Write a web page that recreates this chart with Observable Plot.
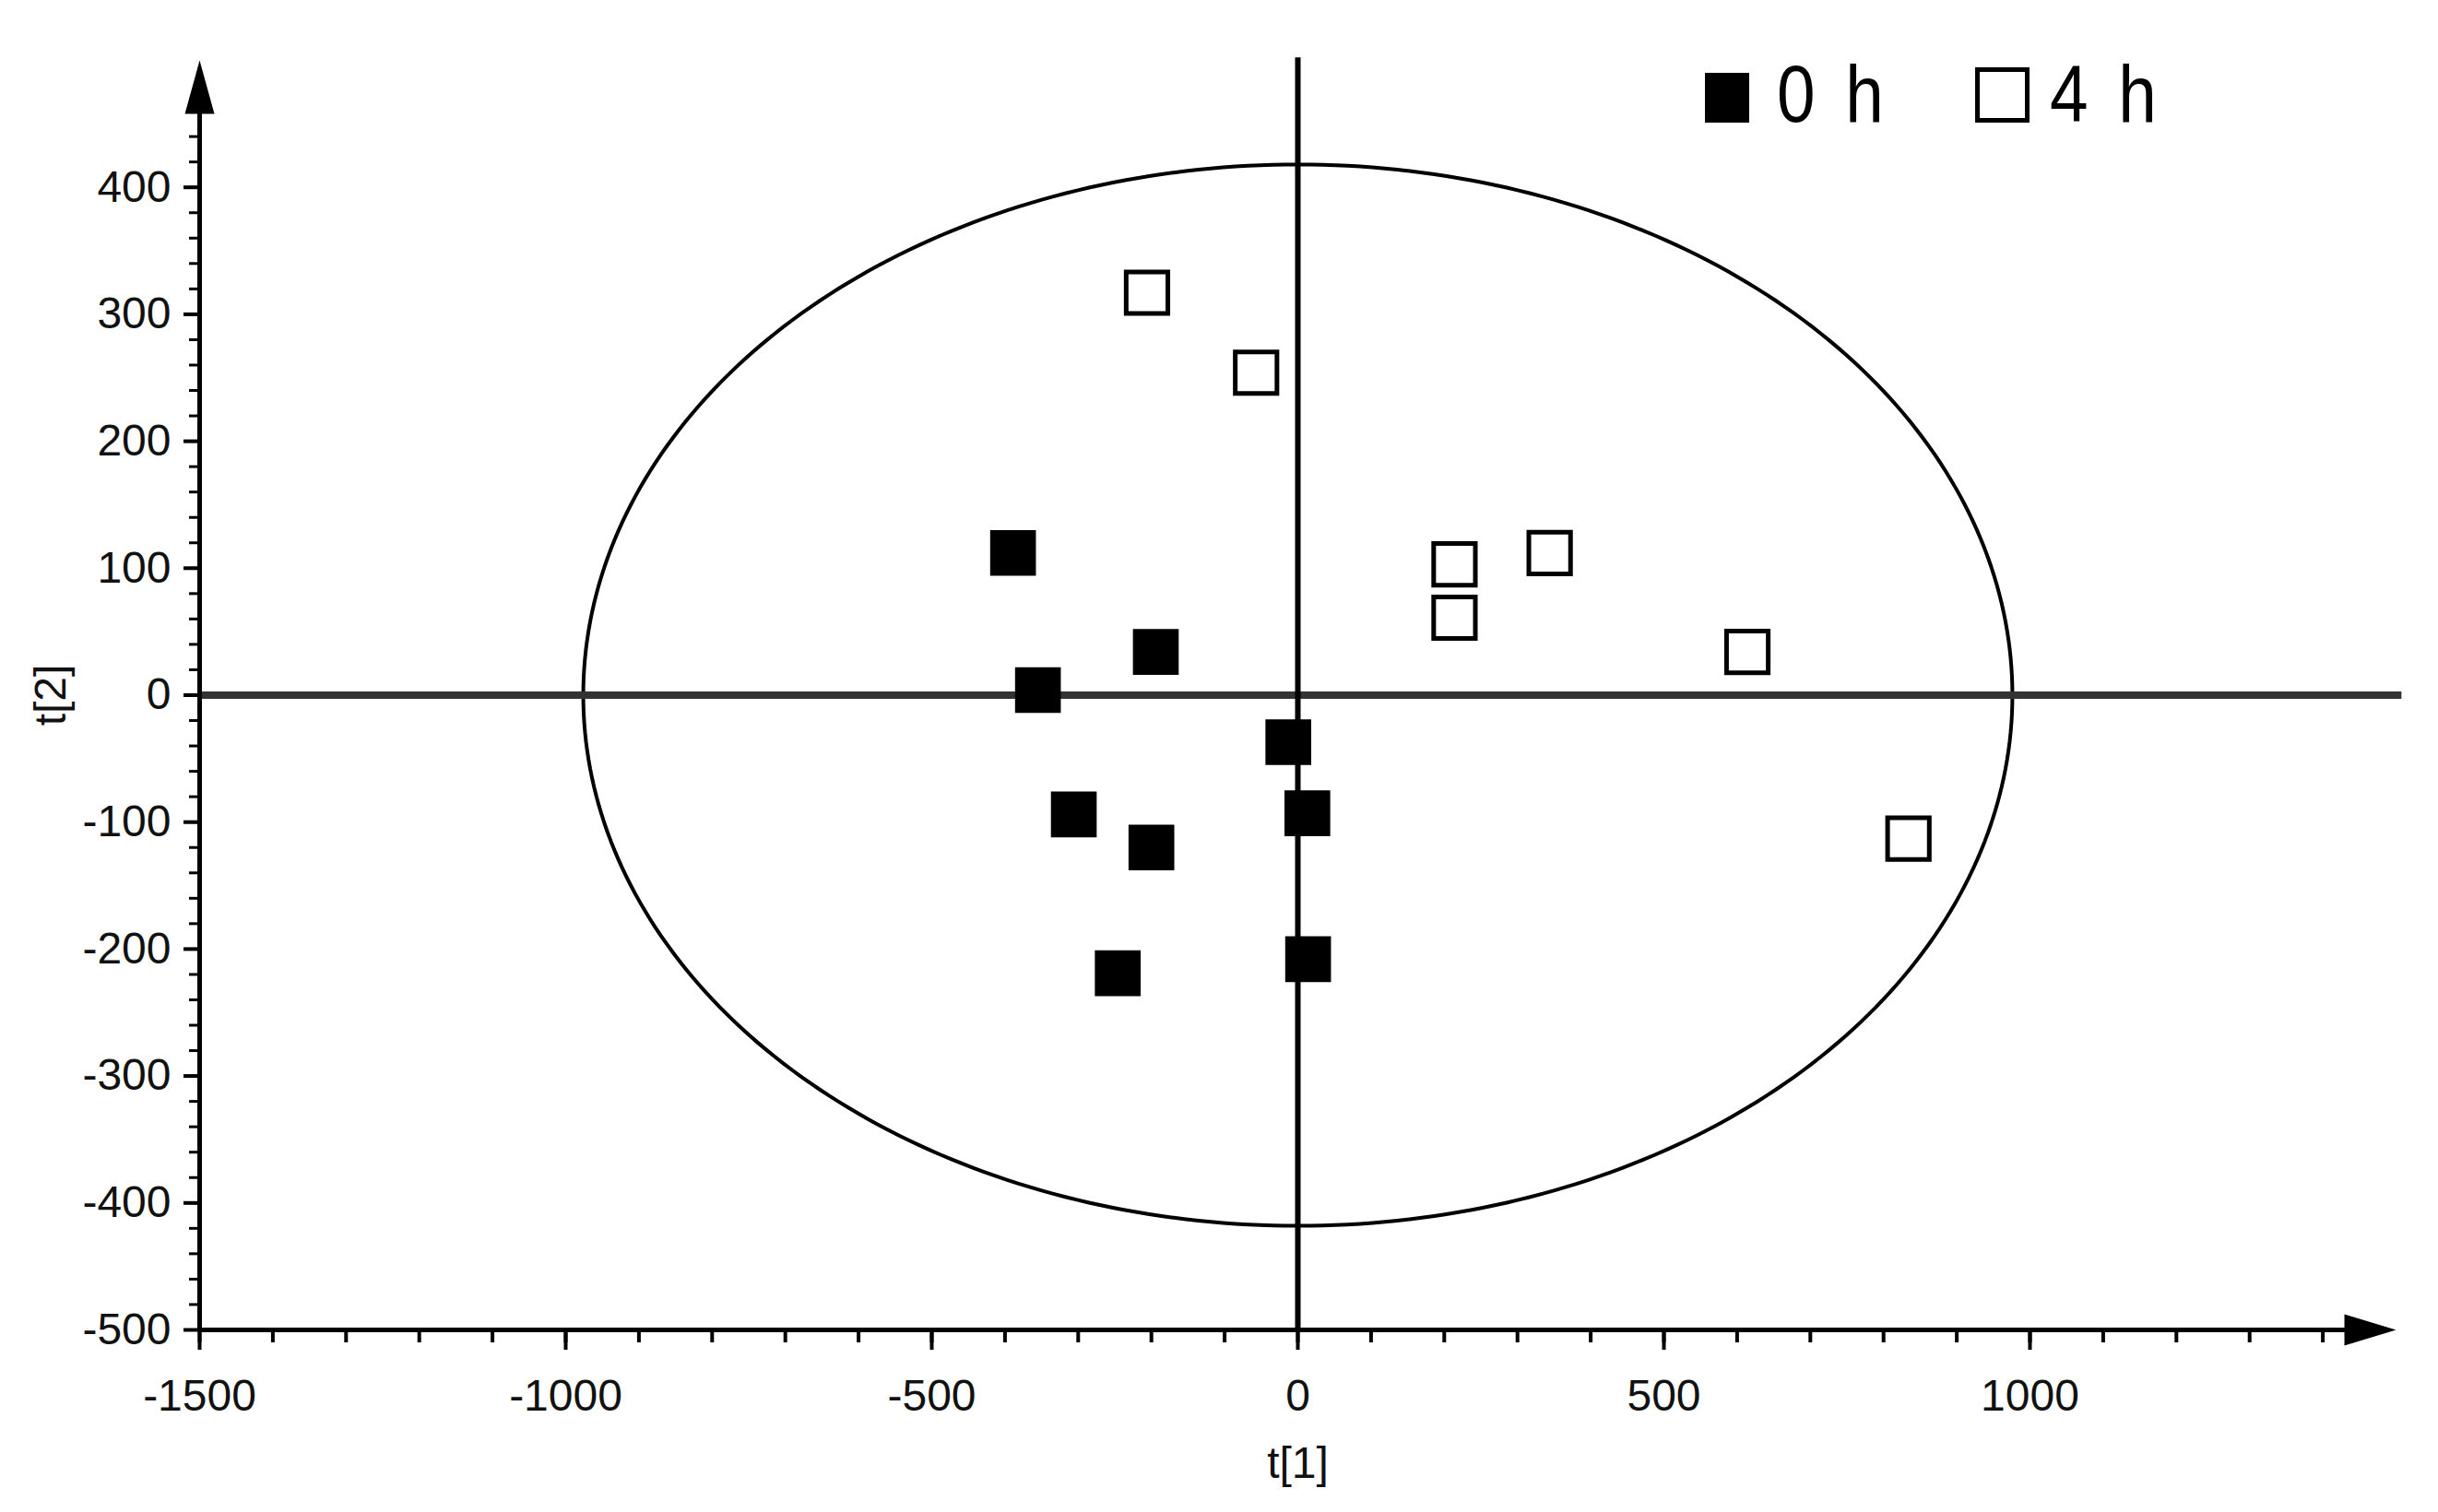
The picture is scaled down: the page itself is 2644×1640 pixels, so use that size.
<!DOCTYPE html>
<html>
<head>
<meta charset="utf-8">
<script src="https://cdn.jsdelivr.net/npm/d3@7"></script>
<script src="https://cdn.jsdelivr.net/npm/@observablehq/plot@0.6"></script>
<style>
  html, body { margin: 0; padding: 0; background: #fff; }
  #wrap { position: relative; width: 2644px; height: 1640px; overflow: hidden; }
  #wrap svg { display: block; }
  .lg { position: absolute; box-sizing: border-box; }
  .lgtext { position: absolute; font-family: "Liberation Sans", Arial, sans-serif;
            font-size: 88px; line-height: 88px; color: #000; white-space: pre;
            word-spacing: 14px; transform: scaleX(0.85); transform-origin: 0 50%; }
</style>
</head>
<body>
<div id="wrap"></div>
<script>
// ---- data ----
const groups = ["0 h", "4 h"];
const t1_0h = [-389, -194, -355, -13, -306, 13, -200, -246, 14];
const t2_0h = [112, 34, 4, -37, -94, -93, -120, -219, -208];
const t1_4h = [-206, -57, 214, 344, 214, 614, 834];
const t2_4h = [317, 254, 103, 112, 61, 34, -113];
const xTicks = [-1500, -1000, -500, 0, 500, 1000];
const yTicks = [-500, -400, -300, -200, -100, 0, 100, 200, 300, 400];
const xMinorTicks = d3.range(-1500, 1401, 100);
const yMinorTicks = d3.range(-500, 441, 20);
const ellipseRx = 976;   // Hotelling T2 ellipse semi-axis on t[1]
const ellipseRy = 418;   // Hotelling T2 ellipse semi-axis on t[2]
const xLabel = "t[1]";
const yLabel = "t[2]";

// ---- tables built from the arrays ----
const points = [
  ...t1_0h.map((v, i) => ({t1: v, t2: t2_0h[i], group: groups[0]})),
  ...t1_4h.map((v, i) => ({t1: v, t2: t2_4h[i], group: groups[1]}))
];
const ellipse = d3.range(0, 360, 1).map(a => {
  const r = a * Math.PI / 180;
  return {t1: ellipseRx * Math.cos(r), t2: ellipseRy * Math.sin(r)};
});

const arrowRight = {draw(ctx) { ctx.moveTo(0, 0); ctx.lineTo(-56, -17); ctx.lineTo(-56, 17); ctx.closePath(); }};
const arrowUp = {draw(ctx) { ctx.moveTo(0, 0); ctx.lineTo(-16, 58); ctx.lineTo(16, 58); ctx.closePath(); }};

const fmt = d => String(d);

const chart = Plot.plot({
  width: 2644,
  height: 1640,
  marginLeft: 216,
  marginRight: 46,
  marginTop: 65,
  marginBottom: 198,
  style: {fontFamily: "'Liberation Sans', Arial, sans-serif", fontSize: "48px", color: "#000", background: "#fff"},
  x: {domain: [-1500, 1500]},
  y: {domain: [-500, 500]},
  marks: [
    // confidence ellipse
    Plot.line(ellipse, {x: "t1", y: "t2", curve: "linear-closed", stroke: "#000", strokeWidth: 4}),
    // origin lines
    Plot.ruleY([0], {x1: -1500, x2: 1508, stroke: "#333", strokeWidth: 8}),
    Plot.ruleX([0], {y1: -500, y2: 502, stroke: "#000", strokeWidth: 6}),
    // axis lines with arrows
    Plot.ruleY([-500], {x1: -1500, x2: 1440, stroke: "#000", strokeWidth: 5}),
    Plot.ruleX([-1500], {y1: -500, y2: 465, stroke: "#000", strokeWidth: 5}),
    Plot.dot([{t1: 1500, t2: -500}], {x: "t1", y: "t2", symbol: arrowRight, fill: "#000", stroke: "none"}),
    Plot.dot([{t1: -1500, t2: 500}], {x: "t1", y: "t2", symbol: arrowUp, fill: "#000", stroke: "none"}),
    // axes
    Plot.axisX(xMinorTicks, {tickSize: 14, strokeWidth: 4, tickFormat: () => "", label: null}),
    Plot.axisX(xTicks, {tickSize: 22, tickPadding: 31, strokeWidth: 4, tickFormat: fmt, fill: "#111",
      label: xLabel, labelAnchor: "center", labelOffset: 160, labelArrow: "none"}),
    Plot.axisY(yMinorTicks, {tickSize: 11, strokeWidth: 3, tickFormat: () => "", label: null}),
    Plot.axisY(yTicks, {tickSize: 17, tickPadding: 14, strokeWidth: 4, tickFormat: fmt, fill: "#111",
      label: yLabel, labelAnchor: "center", labelOffset: 180, labelArrow: "none"}),
    // scores
    Plot.dot(points.filter(d => d.group === groups[0]), {x: "t1", y: "t2", symbol: "square", r: 28, fill: "#000", stroke: "none"}),
    Plot.dot(points.filter(d => d.group === groups[1]), {x: "t1", y: "t2", symbol: "square", r: 25.5, fill: "#fff", stroke: "#000", strokeWidth: 5})
  ]
});

const wrap = document.getElementById("wrap");
wrap.appendChild(chart);

// legend (top-right, inside the plot area)
function addBox(left, top, w, h, filled) {
  const b = document.createElement("div");
  b.className = "lg";
  b.style.left = left + "px"; b.style.top = top + "px";
  b.style.width = w + "px"; b.style.height = h + "px";
  if (filled) b.style.background = "#000";
  else { b.style.border = "5px solid #000"; b.style.background = "#fff"; }
  wrap.appendChild(b);
}
function addText(left, top, txt) {
  const t = document.createElement("div");
  t.className = "lgtext";
  t.style.left = left + "px"; t.style.top = top + "px";
  t.textContent = txt;
  wrap.appendChild(t);
}
addBox(1849, 79, 48, 54, true);
addText(1927, 58, groups[0]);
addBox(2142, 73, 59, 60, false);
addText(2223, 58, groups[1]);
</script>
</body>
</html>
